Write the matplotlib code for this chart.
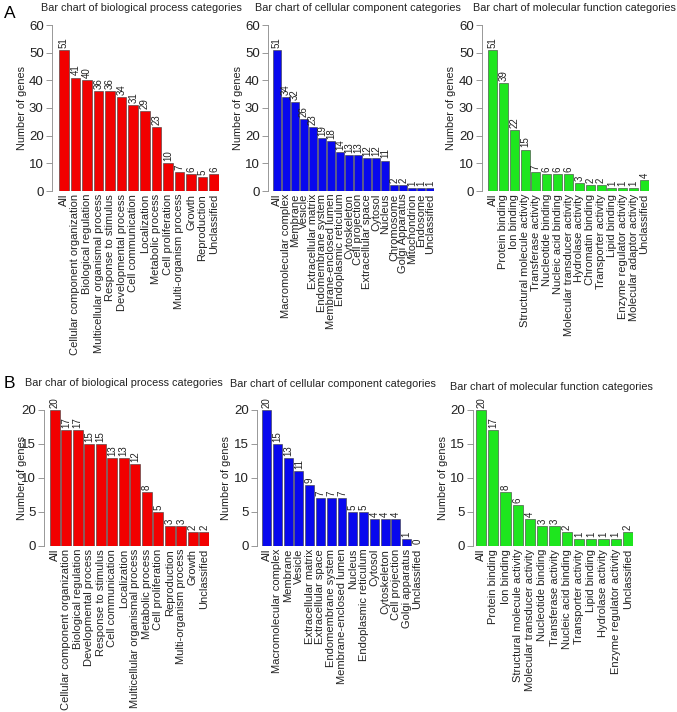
import matplotlib
matplotlib.use("Agg")
import matplotlib.pyplot as plt

plt.rcParams['font.family'] = ['Liberation Sans', 'DejaVu Sans']

W, H = 677, 712

# ---- data ----
bio_a_labels = ['All', 'Cellular component organization', 'Biological regulation',
                'Multicellular organismal process', 'Response to stimulus',
                'Developmental process', 'Cell communication', 'Localization',
                'Metabolic process', 'Cell proliferation', 'Multi-organism process',
                'Growth', 'Reproduction', 'Unclassified']
bio_a_values = [51, 41, 40, 36, 36, 34, 31, 29, 23, 10, 7, 6, 5, 6]

cell_a_labels = ['All', 'Macromolecular complex', 'Membrane', 'Vesicle',
                 'Extracellular matrix', 'Endomembrane system',
                 'Membrane-enclosed lumen', 'Endoplasmic reticulum', 'Cytoskeleton',
                 'Cell projection', 'Extracellular space', 'Cytosol', 'Nucleus',
                 'Chromosome', 'Golgi Apparatus', 'Mitochondrion', 'Endosome',
                 'Unclassified']
cell_a_values = [51, 34, 32, 26, 23, 19, 18, 14, 13, 13, 12, 12, 11, 2, 2, 1, 1, 1]

mol_a_labels = ['All', 'Protein binding', 'Ion binding', 'Structural molecule activity',
                'Transferase activity', 'Nucleotide binding', 'Nucleic acid binding',
                'Molecular transducer activity', 'Hydrolase activity',
                'Chromatin binding', 'Transporter activity', 'Lipid binding',
                'Enzyme regulator activity', 'Molecular adaptor activity',
                'Unclassified']
mol_a_values = [51, 39, 22, 15, 7, 6, 6, 6, 3, 2, 2, 1, 1, 1, 4]

bio_b_labels = ['All', 'Cellular component organization', 'Biological regulation',
                'Developmental process', 'Response to stimulus', 'Cell communication',
                'Localization', 'Multicellular organismal process', 'Metabolic process',
                'Cell proliferation', 'Reproduction', 'Multi-organism process',
                'Growth', 'Unclassified']
bio_b_values = [20, 17, 17, 15, 15, 13, 13, 12, 8, 5, 3, 3, 2, 2]

cell_b_labels = ['All', 'Macromolecular complex', 'Membrane', 'Vesicle',
                 'Extracellular matrix', 'Extracellular space', 'Endomembrane system',
                 'Membrane-enclosed lumen', 'Nucleus', 'Endoplasmic reticulum',
                 'Cytosol', 'Cytoskeleton', 'Cell projection', 'Golgi apparatus',
                 'Unclassified']
cell_b_values = [20, 15, 13, 11, 9, 7, 7, 7, 5, 5, 4, 4, 4, 1, 0]

mol_b_labels = ['All', 'Protein binding', 'Ion binding', 'Structural molecule activity',
                'Molecular transducer activity', 'Nucleotide binding',
                'Transferase activity', 'Nucleic acid binding', 'Transporter activity',
                'Lipid binding', 'Hydrolase activity', 'Enzyme regulator activity',
                'Unclassified']
mol_b_values = [20, 17, 8, 6, 4, 3, 3, 2, 1, 1, 1, 1, 2]

titles_a = ['Bar chart of biological process categories',
            'Bar chart of cellular component categories',
            'Bar chart of molecular function categories']
titles_b = ['Bar char of biological process categories',
            'Bar chart of cellular component categories',
            'Bar chart of molecular function categories']

RED, BLUE, GREEN = '#f20000', '#0808ee', '#1ee61e'

fig = plt.figure(figsize=(W / 100, H / 100), dpi=100)

bw = 1 / 1.2  # R barplot default space = 0.2


def panel(labels, values, color, spine_x, bar_l, bar_r, y_top, y0, ymax, ystep,
          title, title_x, title_y, ylab_x):
    n = len(values)
    ppu = (bar_r - bar_l) / (n - 1 + bw)
    gap = (bar_l - spine_x) / ppu
    ax = fig.add_axes([spine_x / W, 1 - y0 / H, (bar_r - spine_x) / W, (y0 - y_top) / H])
    x = list(range(n))
    ax.bar(x, values, width=bw, color=color, edgecolor='#3a3a3a', linewidth=0.4)
    for xi, v in zip(x, values):
        ax.annotate(str(v), (xi, v), xytext=(0, 1.5), textcoords='offset points',
                    rotation=90, ha='center', va='bottom', fontsize=7,
                    color='#222222', annotation_clip=False)
    ax.set_xlim(-bw / 2 - gap, n - 1 + bw / 2)
    ax.set_ylim(0, ymax)
    ax.set_yticks(range(0, ymax + 1, ystep))
    ax.set_xticks(x)
    ax.set_xticklabels(labels, rotation=90, fontsize=8, color='#222222')
    ax.tick_params(axis='x', length=0, pad=2)
    ax.tick_params(axis='y', length=4.5, width=0.6, color='#888888', labelsize=9.5,
                   labelcolor='#222222', pad=1.5)
    for s in ['top', 'right', 'bottom']:
        ax.spines[s].set_visible(False)
    ax.spines['left'].set_color('#888888')
    ax.spines['left'].set_linewidth(0.6)
    ax.set_ylabel('Number of genes', fontsize=7.8, color='#222222')
    ax.yaxis.set_label_coords(ylab_x / W, 1 - (y_top + y0) / 2 / H,
                              transform=fig.transFigure)
    fig.text(title_x / W, 1 - title_y / H, title, fontsize=7.8, color='#222222',
             ha='left', va='center')
    return ax


# row A
panel(bio_a_labels, bio_a_values, RED, 52, 59, 219, 25, 191, 60, 10,
      titles_a[0], 41, 8, 27)
panel(cell_a_labels, cell_a_values, BLUE, 268, 273, 434, 25, 191, 60, 10,
      titles_a[1], 255, 8, 243)
panel(mol_a_labels, mol_a_values, GREEN, 482, 488, 649, 25, 191, 60, 10,
      titles_a[2], 473, 8, 456)

# row B
panel(bio_b_labels, bio_b_values, RED, 44, 50, 209, 410, 546, 20, 5,
      titles_b[0], 25, 383, 27)
panel(cell_b_labels, cell_b_values, BLUE, 257, 262, 422, 410, 546, 20, 5,
      titles_b[1], 230, 384, 231)
panel(mol_b_labels, mol_b_values, GREEN, 473, 476, 633, 410, 546, 20, 5,
      titles_b[2], 450, 387, 448)

fig.text(4 / W, 1 - 13 / H, 'A', fontsize=12.5, ha='left', va='center')
fig.text(4 / W, 1 - 384 / H, 'B', fontsize=12.5, ha='left', va='center')

fig.savefig('out.png', dpi=100)
